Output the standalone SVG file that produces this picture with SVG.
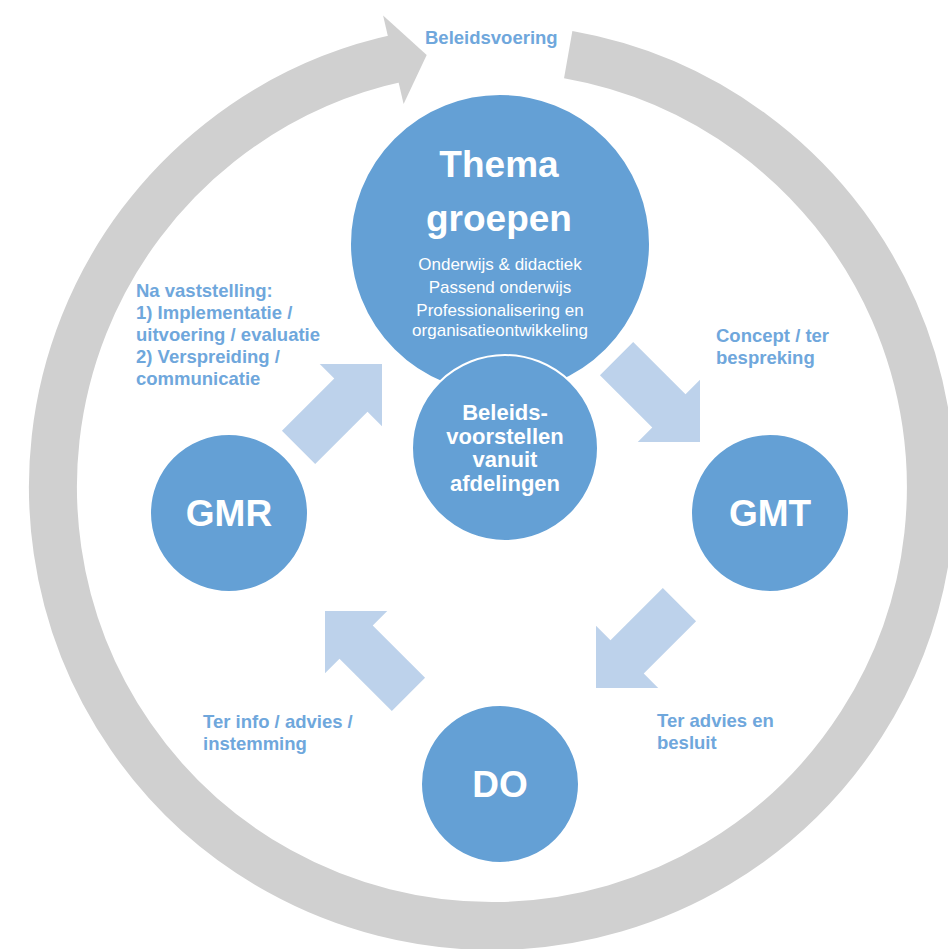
<svg xmlns="http://www.w3.org/2000/svg" xmlns:xlink="http://www.w3.org/1999/xlink" width="948" height="949" viewBox="0 0 948 949">
<style>
.node{fill:#64a0d5;stroke:#ffffff;stroke-width:2}
.arr{fill:#bdd2eb}
.ring{fill:none;stroke:#d0d0d0;stroke-width:48}
.ringhead{fill:#d0d0d0}
.title{font-family:"Liberation Sans",Arial,sans-serif;font-weight:bold;fill:#ffffff;text-anchor:middle}
.sub{font-family:"Liberation Sans",Arial,sans-serif;font-size:17px;fill:#ffffff;text-anchor:middle}
.lbl{font-family:"Liberation Sans",Arial,sans-serif;font-weight:bold;font-size:18.5px;fill:#6fa7dc}
</style>
<defs>
<polygon id="barrow" points="0,0 -44,-44 -44,-23.5 -118,-23.5 -118,23.5 -44,23.5 -44,44"/>
</defs>
<rect width="948" height="949" fill="#ffffff"/>
<g id="connectors">
<g id="cycle">
<path class="ring" d="M 568.2,54.7 A 439 439 0 1 1 400.7,57.6"/>
<polygon class="ringhead" points="383.1,15.4 426.7,54.9 403.6,104.1"/>
</g>
<use id="arrow-gmr-thema" class="arr" xlink:href="#barrow" transform="translate(382,364) rotate(-45)"/>
<use id="arrow-thema-gmt" class="arr" xlink:href="#barrow" transform="translate(700,442) rotate(45)"/>
<use id="arrow-gmt-do" class="arr" xlink:href="#barrow" transform="translate(596,688) rotate(135)"/>
<use id="arrow-do-gmr" class="arr" xlink:href="#barrow" transform="translate(325,611) rotate(225)"/>
</g>
<g id="node-thema">
<circle class="node" cx="500" cy="244" r="150"/>
<text class="title" x="499" y="177" font-size="37">Thema</text>
<text class="title" x="499" y="231" font-size="37">groepen</text>
<text class="sub" x="500" y="270">Onderwijs &amp; didactiek</text>
<text class="sub" x="500" y="293">Passend onderwijs</text>
<text class="sub" x="500" y="315.5">Professionalisering en</text>
<text class="sub" x="500" y="335.5">organisatieontwikkeling</text>
</g>
<g id="node-beleidsvoorstellen">
<circle class="node" cx="505" cy="448" r="93" stroke-width="3"/>
<text class="title" x="505" y="420" font-size="22">Beleids-</text>
<text class="title" x="505" y="443.5" font-size="22">voorstellen</text>
<text class="title" x="505" y="467" font-size="22">vanuit</text>
<text class="title" x="505" y="490.5" font-size="22">afdelingen</text>
</g>
<g id="node-gmr">
<circle class="node" cx="229" cy="513" r="79"/>
<text class="title" x="229" y="526" font-size="37">GMR</text>
</g>
<g id="node-gmt">
<circle class="node" cx="770" cy="513" r="79"/>
<text class="title" x="770" y="526" font-size="37">GMT</text>
</g>
<g id="node-do">
<circle class="node" cx="500" cy="784" r="79"/>
<text class="title" x="500" y="797" font-size="37">DO</text>
</g>
<g id="labels">
<text class="lbl" x="425" y="44">Beleidsvoering</text>
<text class="lbl" x="136" y="297">Na vaststelling:</text>
<text class="lbl" x="136" y="319">1) Implementatie /</text>
<text class="lbl" x="136" y="341">uitvoering / evaluatie</text>
<text class="lbl" x="136" y="363">2) Verspreiding /</text>
<text class="lbl" x="136" y="385">communicatie</text>
<text class="lbl" x="716" y="342">Concept / ter</text>
<text class="lbl" x="716" y="364">bespreking</text>
<text class="lbl" x="657" y="727">Ter advies en</text>
<text class="lbl" x="657" y="749">besluit</text>
<text class="lbl" x="203" y="728">Ter info / advies /</text>
<text class="lbl" x="203" y="750">instemming</text>
</g>
</svg>
